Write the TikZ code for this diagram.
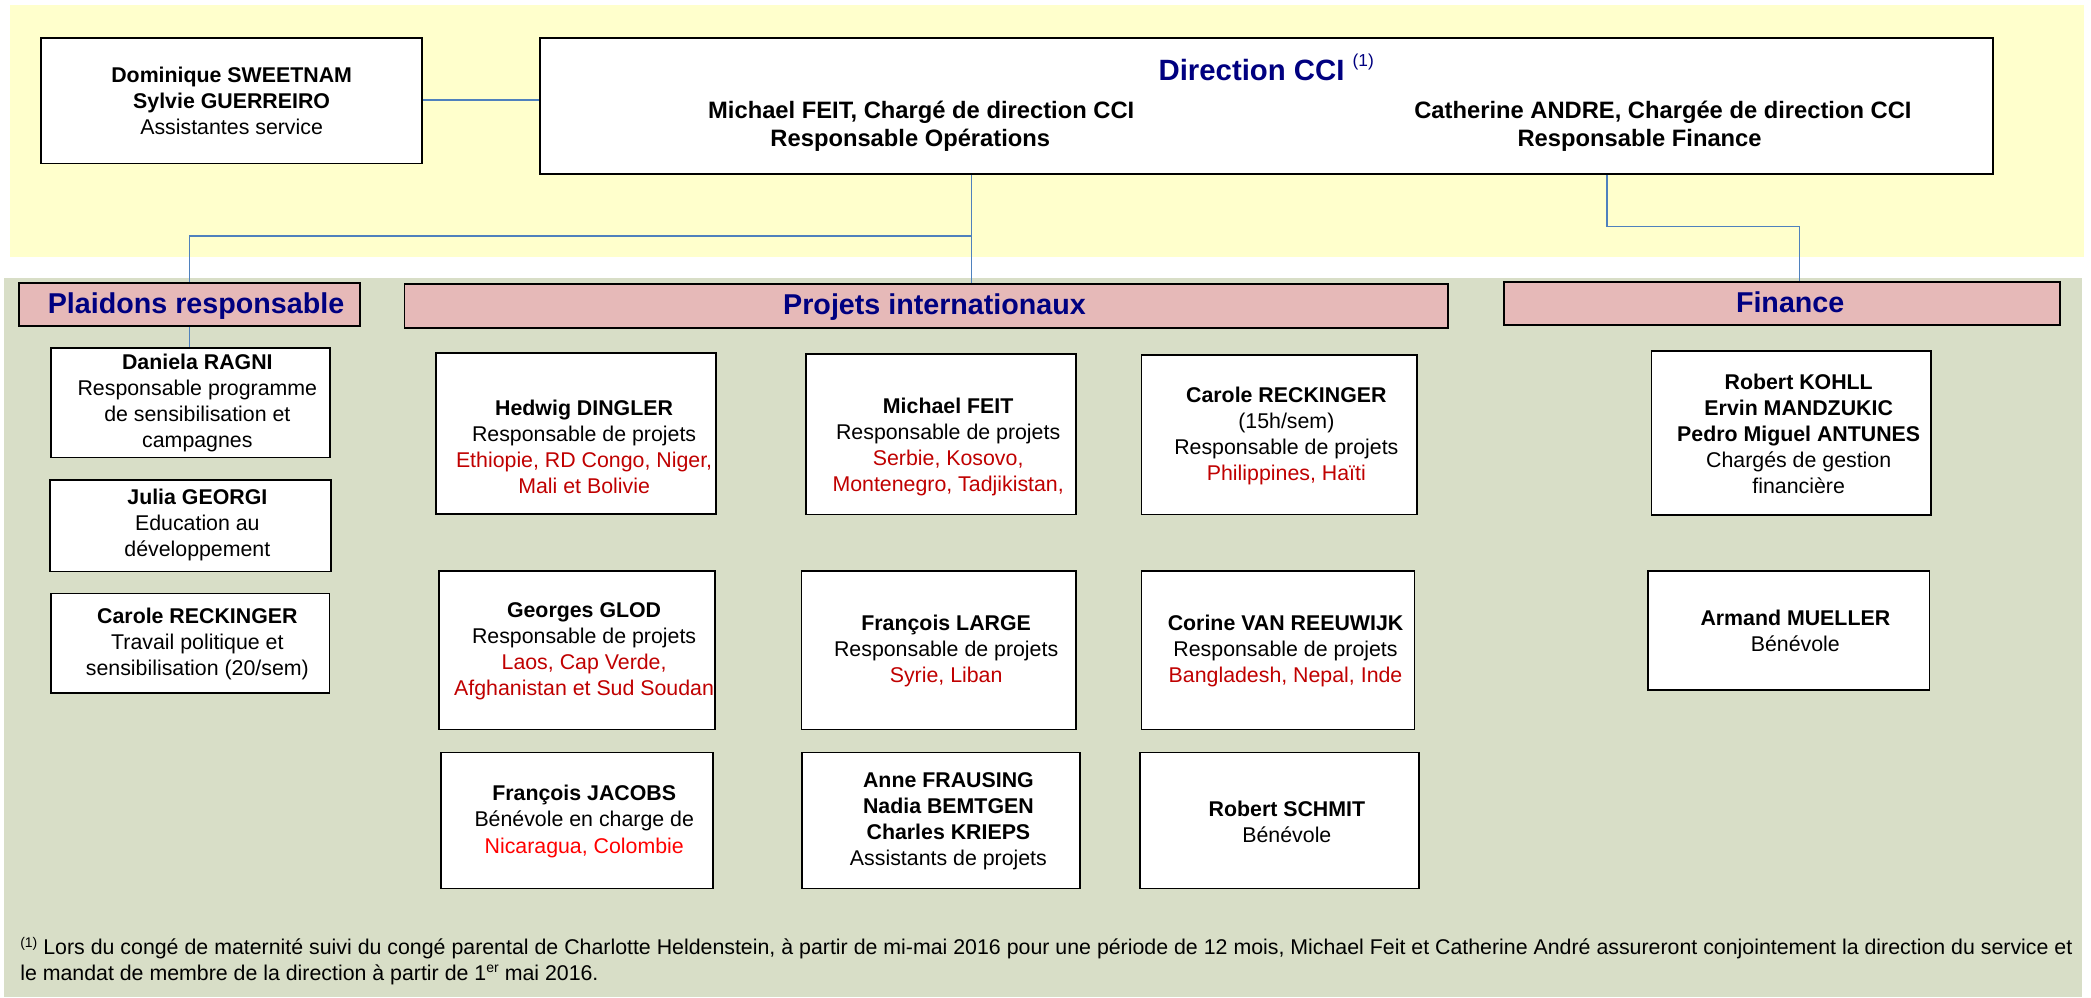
\documentclass[tikz,border=0pt]{standalone}
\usepackage{fontspec}
\setmainfont{Liberation Sans}
\usetikzlibrary{fit}
\definecolor{bandyellow}{RGB}{255,255,204}
\definecolor{bandgreen}{RGB}{216,222,199}
\definecolor{headpink}{RGB}{230,185,184}
\definecolor{titlenavy}{RGB}{0,0,128}
\definecolor{linkblue}{RGB}{79,129,189}
\definecolor{darkred}{RGB}{192,0,0}
\definecolor{brightred}{RGB}{255,0,0}
\newcommand{\cty}[1]{\textcolor{darkred}{#1}}
\newcommand{\supr}[1]{{\fontsize{10.5}{10.5}\selectfont\raisebox{5.5pt}{#1}}}
\begin{document}
\begin{tikzpicture}[x=1pt,y=-1pt,
  wbox/.style={draw=black, line width=1.3pt, fill=white, inner sep=0pt},
  hbox/.style={draw=black, line width=1.3pt, fill=headpink, inner sep=0pt},
  txt/.style={inner sep=0pt, align=center, font=\fontsize{16}{19.5}\selectfont},
  htxt/.style={inner sep=0pt, anchor=base, text=titlenavy, font=\fontsize{21.5}{24}\selectfont\bfseries},
  dtxt/.style={inner sep=0pt, anchor=base, font=\fontsize{17.8}{21}\selectfont\bfseries},
  link/.style={draw=linkblue, line width=1.1pt},
]
\useasboundingbox (0,0) rectangle (1568,748);
% bands
\fill[bandyellow] (7.4,3.75) rectangle (1563,192.5);
\fill[bandgreen] (3.3,208.7) rectangle (1561.5,747.3);

% top level
\node[wbox, fit={(31,28.3) (316.4,122.5)}] (dom) {};
\node[txt] (domt) at (173.7,76) {\textbf{Dominique SWEETNAM}\\\textbf{Sylvie GUERREIRO}\\Assistantes service};
\node[wbox, fit={(405,28.3) (1494.5,130.5)}] (dir) {};
\node[inner sep=0pt, anchor=base, text=titlenavy, font=\fontsize{22}{24}\selectfont\bfseries] (dirt) at (949.5,60)
  {Direction CCI {\fontsize{13}{13}\selectfont\mdseries\raisebox{10.5pt}{(1)}}};
\node[dtxt] (dirl1) at (690.8,88.75) {Michael FEIT, Chargé de direction CCI};
\node[dtxt] (dirl2) at (682.6,110) {Responsable Opérations};
\node[dtxt] (dirr1) at (1247,88.75) {Catherine ANDRE, Chargée de direction CCI};
\node[dtxt] (dirr2) at (1229.5,110) {Responsable Finance};

% headers
\node[hbox, fit={(14.4,212) (269.8,244.5)}] (pla) {};
\node[htxt] (plat) at (147,235.2) {Plaidons responsable};
\node[hbox, fit={(303.3,213) (1085.9,246)}] (pro) {};
\node[htxt] (prot) at (700.8,236.2) {Projets internationaux};
\node[hbox, fit={(1128,211.25) (1545,243.75)}] (fin) {};
\node[htxt] (fint) at (1342.4,234) {Finance};

% Plaidons column
\node[wbox, fit={(38,261) (247.2,343)}] (dan) {};
\node[txt] (dant) at (148,302.5) {\textbf{Daniela RAGNI}\\Responsable programme\\de sensibilisation et\\campagnes};
\node[wbox, fit={(37.5,360) (248,428.5)}] (jul) {};
\node[txt] (jult) at (148,394) {\textbf{Julia GEORGI}\\Education au\\développement};
\node[wbox, fit={(38.5,445) (247,519.5)}] (carp) {};
\node[txt] (carpt) at (148,483) {\textbf{Carole RECKINGER}\\Travail politique et\\sensibilisation (20/sem)};

% Projets
\node[wbox, fit={(327,264.5) (537,385.5)}] (hed) {};
\node[txt] (hedt) at (438,334.75) {\textbf{Hedwig DINGLER}\\Responsable de projets\\\cty{Ethiopie, RD Congo, Niger,}\\\cty{Mali et Bolivie}};
\node[wbox, fit={(604.4,265.5) (806.9,385.75)}] (mic) {};
\node[txt] (mict) at (711,335.4) {\textbf{Michael FEIT}\\Responsable de projets\\\cty{Serbie, Kosovo,}\\\cty{Montenegro, Tadjikistan,}};
\node[wbox, fit={(856,266.25) (1062.4,385.75)}] (carr) {};
\node[txt] (carrt) at (964.6,326.6) {\textbf{Carole RECKINGER}\\(15h/sem)\\Responsable de projets\\\cty{Philippines, Haïti}};
\node[wbox, fit={(329,428) (536,547)}] (geo) {};
\node[txt] (geot) at (438,488.25) {\textbf{Georges GLOD}\\Responsable de projets\\\cty{Laos, Cap Verde,}\\\cty{Afghanistan et Sud Soudan}};
\node[wbox, fit={(601,428) (807,547)}] (lar) {};
\node[txt] (lart) at (709.5,488) {\textbf{François LARGE}\\Responsable de projets\\\cty{Syrie, Liban}};
\node[wbox, fit={(856,428) (1060.7,547)}] (cor) {};
\node[txt] (cort) at (964,488) {\textbf{Corine VAN REEUWIJK}\\Responsable de projets\\\cty{Bangladesh, Nepal, Inde}};
\node[wbox, fit={(330.6,564.25) (534.6,666.25)}] (jac) {};
\node[txt] (jact) at (438.1,616) {\textbf{François JACOBS}\\Bénévole en charge de\\\textcolor{brightred}{Nicaragua, Colombie}};
\node[wbox, fit={(601.4,564.25) (810,666.25)}] (ann) {};
\node[txt] (annt) at (711.2,616) {\textbf{Anne FRAUSING}\\\textbf{Nadia BEMTGEN}\\\textbf{Charles KRIEPS}\\Assistants de projets};
\node[wbox, fit={(855,564.25) (1064,666.25)}] (sch) {};
\node[txt] (scht) at (965,616.25) {\textbf{Robert SCHMIT}\\Bénévole};

% Finance
\node[wbox, fit={(1238.5,263.25) (1447.9,386.25)}] (koh) {};
\node[txt] (koht) at (1348.8,325) {\textbf{Robert KOHLL}\\\textbf{Ervin MANDZUKIC}\\\textbf{Pedro Miguel ANTUNES}\\Chargés de gestion\\financière};
\node[wbox, fit={(1235.6,428.25) (1446.8,517.5)}] (arm) {};
\node[txt] (armt) at (1346.3,473.25) {\textbf{Armand MUELLER}\\Bénévole};

% footnote
\node[inner sep=0pt, anchor=base west, font=\fontsize{16}{19.5}\selectfont] (fn1) at (15,716)
  {\makebox[1539pt][s]{\supr{(1)} Lors du congé de maternité suivi du congé parental de Charlotte Heldenstein, à partir de mi-mai 2016 pour une période de 12 mois, Michael Feit et Catherine André assureront conjointement la direction du service et}};
\node[inner sep=0pt, anchor=base west, font=\fontsize{16}{19.5}\selectfont] (fn2) at (15,735)
  {le mandat de membre de la direction à partir de 1\supr{er} mai 2016.};

% connectors
\coordinate (jA) at (728.5,177);
\coordinate (jB) at (142.3,177);
\coordinate (jC) at (1205,170);
\coordinate (jD) at (1349.5,170);
\draw[link] (dom.east |- 0,75) -- (dir.west |- 0,75);
\draw[link] (dir.south -| jA) -- (pro.north -| jA);
\draw[link] (jA) -- (jB) -- (jB |- pla.north);
\draw[link] (pla.south -| jB) -- (dan.north -| jB);
\draw[link] (dir.south -| jC) -- (jC) -- (jD) -- (jD |- fin.north);
\end{tikzpicture}
\end{document}
